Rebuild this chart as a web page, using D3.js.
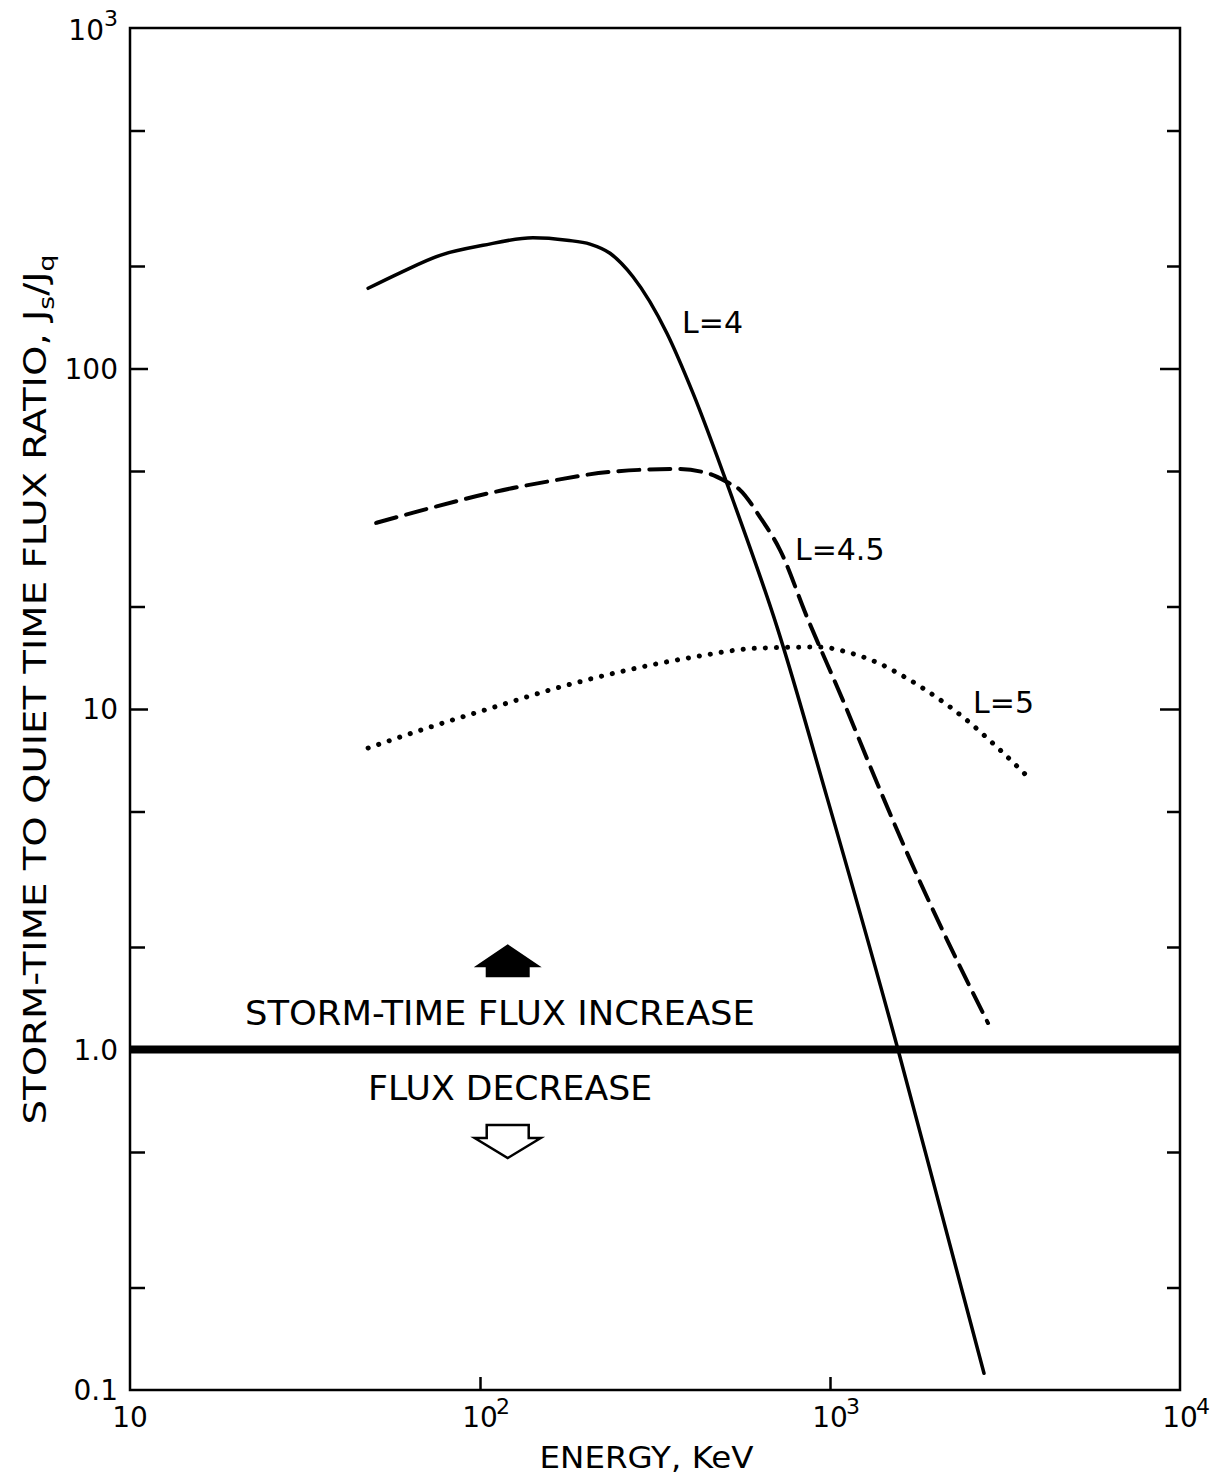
<!DOCTYPE html>
<html>
<head>
<meta charset="utf-8">
<script src="https://cdn.jsdelivr.net/npm/d3@7"></script>
<style>
body { margin: 0; background: #fff; }
text { font-family: "DejaVu Sans", sans-serif; fill: #000; }
</style>
</head>
<body>
<div class="chart"></div>
<script>
// values (energy in KeV, ratio Js/Jq)
var energyL4 = [47.9, 59.1, 76.9, 102, 141.7, 177.3, 206.2, 235.2, 273.6, 342, 406, 528, 706, 980, 1564, 2071, 2754];
var ratioL4  = [172, 191, 215, 230, 242, 238, 232, 218, 186, 127, 84.7, 41.1, 17.4, 5.51, 1.0, 0.338, 0.112];

var energyL45 = [50.5, 72, 106.8, 158.5, 235.2, 365.5, 454, 508, 553, 631, 720, 860, 1089, 1390, 1660, 2160, 2828];
var ratioL45  = [35.2, 38.9, 43.1, 46.7, 49.7, 50.7, 49.0, 46.4, 44.0, 36.6, 29.3, 18.6, 10.6, 5.78, 3.78, 2.10, 1.196];

var energyL5 = [47.9, 70.6, 108.9, 169.3, 263, 406, 631, 936, 1118, 1362, 1660, 2022, 2399, 3001, 3727];
var ratioL5  = [7.68, 8.79, 10.1, 11.6, 13.0, 14.2, 15.1, 15.2, 14.7, 13.7, 12.3, 10.8, 9.47, 7.73, 6.23];

var xMajor = [10, 100, 1000, 10000];
var xMajorLabels = [["10", ""], ["10", "2"], ["10", "3"], ["10", "4"]];
var yMajor = [1000, 100, 10, 1, 0.1];
var yMajorLabels = [["10", "3"], ["100", ""], ["10", ""], ["1.0", ""], ["0.1", ""]];
var yMinor = [500, 200, 50, 20, 5, 2, 0.5, 0.2];

var curveNames = ["L=4", "L=4.5", "L=5"];
var labelEnergy = [378, 794, 2563];
var labelRatio = [127, 27.4, 9.73];

var margin = {top: 28, right: 44, bottom: 92, left: 130};
var Width = 1224 - margin.left - margin.right;
var Height = 1482 - margin.top - margin.bottom;

var svg = d3.select(".chart").append("svg")
  .attr("width", 1224)
  .attr("height", 1482)
  .append("g")
    .attr("transform", "translate(" + margin.left + "," + margin.top + ")");

var xScale = d3.scaleLog().domain([10, 10000]).range([0, Width]);
var yScale = d3.scaleLog().domain([0.1, 1000]).range([Height, 0]);

// frame
svg.append("rect")
  .attr("width", Width).attr("height", Height)
  .attr("fill", "none").attr("stroke", "#000").attr("stroke-width", 2.5);

// inward ticks
var tickGroups = [
  {axis: d3.axisLeft(yScale).tickValues(yMinor).tickSize(-15), t: "translate(0,0)"},
  {axis: d3.axisLeft(yScale).tickValues([100, 10]).tickSize(-18), t: "translate(0,0)"},
  {axis: d3.axisRight(yScale).tickValues(yMinor).tickSize(-13), t: "translate(" + Width + ",0)"},
  {axis: d3.axisRight(yScale).tickValues([100, 10]).tickSize(-20), t: "translate(" + Width + ",0)"},
  {axis: d3.axisBottom(xScale).tickValues([100, 1000]).tickSize(-13), t: "translate(0," + Height + ")"}
];
tickGroups.forEach(function(g) {
  var grp = svg.append("g").attr("transform", g.t).call(g.axis.tickFormat(""));
  grp.select(".domain").remove();
  grp.selectAll("line").attr("stroke", "#000").attr("stroke-width", 2.5);
});

// y tick labels
yMajor.forEach(function(v, i) {
  var t = svg.append("text")
    .attr("x", -12)
    .attr("y", yScale(v) + (i == 0 ? 12 : 10))
    .attr("text-anchor", "end")
    .style("font-size", "28px");
  t.append("tspan").text(yMajorLabels[i][0]);
  if (yMajorLabels[i][1]) t.append("tspan").attr("dy", -14).style("font-size", "22px").text(yMajorLabels[i][1]);
});

// x tick labels
xMajor.forEach(function(v, i) {
  svg.append("text")
    .attr("x", xScale(v))
    .attr("y", Height + 37)
    .attr("text-anchor", "middle")
    .style("font-size", "28px")
    .text(xMajorLabels[i][0]);
  if (xMajorLabels[i][1]) {
    svg.append("text")
      .attr("x", xScale(v) + 16)
      .attr("y", Height + 24)
      .style("font-size", "22px")
      .text(xMajorLabels[i][1]);
  }
});

// axis titles
svg.append("text")
  .attr("x", xScale(148))
  .attr("y", Height + 78)
  .attr("textLength", 214)
  .attr("lengthAdjust", "spacingAndGlyphs")
  .style("font-size", "30px")
  .text("ENERGY,  KeV");

var yt = svg.append("text")
  .attr("transform", "translate(" + (-84) + "," + (yScale(1) + 75) + ") rotate(-90)")
  .attr("textLength", 870)
  .attr("lengthAdjust", "spacingAndGlyphs")
  .style("font-size", "32px");
yt.append("tspan").text("STORM-TIME TO QUIET TIME FLUX RATIO, J");
yt.append("tspan").attr("dy", 8).style("font-size", "22px").text("s");
yt.append("tspan").attr("dy", -8).text("/J");
yt.append("tspan").attr("dy", 8).style("font-size", "22px").text("q");

// reference line at ratio = 1
svg.append("line")
  .attr("x1", 0).attr("x2", Width)
  .attr("y1", yScale(1)).attr("y2", yScale(1))
  .attr("stroke", "#000").attr("stroke-width", 8);

// curves
var line = d3.line()
  .x(function(d) { return xScale(d[0]); })
  .y(function(d) { return yScale(d[1]); })
  .curve(d3.curveMonotoneX);

var curves = [
  {e: energyL4, r: ratioL4, dash: null, w: 3.5},
  {e: energyL45, r: ratioL45, dash: "21 10", w: 4},
  {e: energyL5, r: ratioL5, dash: "0.1 11", w: 5}
];
curves.forEach(function(c) {
  svg.append("path")
    .datum(d3.zip(c.e, c.r))
    .attr("d", line)
    .attr("fill", "none")
    .attr("stroke", "#000")
    .attr("stroke-width", c.w)
    .attr("stroke-linecap", "round")
    .attr("stroke-dasharray", c.dash);
});

curveNames.forEach(function(n, i) {
  svg.append("text")
    .attr("x", xScale(labelEnergy[i]))
    .attr("y", yScale(labelRatio[i]))
    .style("font-size", "30px")
    .text(n);
});

// increase / decrease annotation
svg.append("text")
  .attr("x", xScale(21.3)).attr("y", yScale(1.18))
  .attr("textLength", 510).attr("lengthAdjust", "spacingAndGlyphs")
  .style("font-size", "33px")
  .text("STORM-TIME FLUX INCREASE");
svg.append("text")
  .attr("x", xScale(47.9)).attr("y", yScale(0.711))
  .attr("textLength", 284).attr("lengthAdjust", "spacingAndGlyphs")
  .style("font-size", "33px")
  .text("FLUX DECREASE");

var ax = xScale(120);
var upY = yScale(1.63);
svg.append("path")
  .attr("d", "M" + (ax - 22) + "," + upY + "V" + (upY - 10) + "H" + (ax - 34) + "L" + ax + "," + (upY - 33) +
             "L" + (ax + 34) + "," + (upY - 10) + "H" + (ax + 22) + "V" + upY + "Z")
  .attr("fill", "#000");
var dnY = yScale(0.6);
svg.append("path")
  .attr("d", "M" + (ax - 21) + "," + dnY + "V" + (dnY + 13) + "H" + (ax - 33) + "L" + ax + "," + (dnY + 33) +
             "L" + (ax + 33) + "," + (dnY + 13) + "H" + (ax + 21) + "V" + dnY + "Z")
  .attr("fill", "#fff").attr("stroke", "#000").attr("stroke-width", 2.5);
</script>
</body>
</html>
